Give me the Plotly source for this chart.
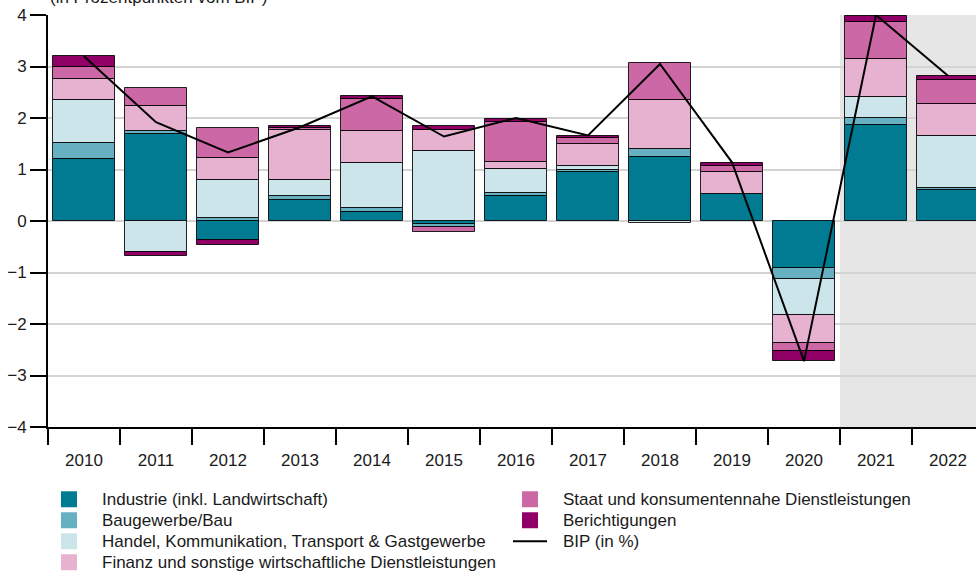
import plotly.graph_objects as go

years = ["2010", "2011", "2012", "2013", "2014", "2015", "2016",
         "2017", "2018", "2019", "2020", "2021", "2022"]

industrie = [1.20, 1.69, -0.37, 0.40, 0.18, -0.05, 0.49, 0.95, 1.24, 0.53, -0.92, 1.87, 0.61]
bau       = [0.32, 0.05, 0.06, 0.09, 0.08, -0.06, 0.05, 0.05, 0.15, None, -0.20, 0.13, 0.03]
handel    = [0.82, -0.61, 0.74, 0.31, 0.86, 1.35, 0.47, 0.06, -0.03, None, -0.70, 0.40, 1.02]
finanz    = [0.42, 0.50, 0.43, 0.96, 0.63, 0.42, 0.14, 0.44, 0.95, 0.42, -0.54, 0.74, 0.61]
staat     = [0.24, 0.35, 0.58, 0.05, 0.62, -0.10, 0.78, 0.11, 0.73, 0.11, -0.16, 0.72, 0.47]
berich    = [0.20, -0.07, -0.09, 0.03, 0.05, 0.07, 0.05, 0.04, None, 0.06, -0.20, 0.13, 0.08]
bip       = [3.20, 1.92, 1.33, 1.82, 2.42, 1.64, 2.00, 1.66, 3.05, 1.14, -2.72, 4.00, 2.82]

names = ["Industrie (inkl. Landwirtschaft)", "Baugewerbe/Bau",
         "Handel, Kommunikation, Transport & Gastgewerbe",
         "Finanz und sonstige wirtschaftliche Dienstleistungen",
         "Staat und konsumentennahe Dienstleistungen", "Berichtigungen"]
bip_name = "BIP (in %)"
colors = ["#007b91", "#66b0c1", "#cce5ea", "#e7b2d0", "#cc68a6", "#910066"]
series = [industrie, bau, handel, finanz, staat, berich]

FONT = "Liberation Sans, Arial, sans-serif"
TXT = "#1a1a1a"

# geometry
W, H = 976, 576
L, T = 48, 14.5
PW = W - L
PH = 412.2
B = H - T - PH
CAT = 72.0  # pixel width of one year slot


def px(xs):
    return (xs - L) / PW


def py(ys):
    return (T + PH - ys) / PH


fig = go.Figure()
for nm, col, vals in zip(names, colors, series):
    fig.add_trace(go.Bar(x=years, y=vals, name=nm, marker_color=col,
                         marker_line=dict(color="rgba(0,0,0,0.85)", width=1),
                         width=0.86, showlegend=False, hoverinfo="skip"))
fig.add_trace(go.Scatter(x=years, y=bip, mode="lines", name=bip_name,
                         line=dict(color="black", width=2), showlegend=False))

fig.add_shape(type="rect", xref="x", yref="y", x0=10.5, x1=13, y0=-4, y1=4,
              fillcolor="#e6e6e6", line=dict(width=0), layer="below")

fig.add_annotation(text="(in Prozentpunkten vom BIP)", xref="paper", yref="paper",
                   x=px(48), y=py(-3), xanchor="left", yanchor="middle", showarrow=False,
                   font=dict(size=17, color=TXT, family=FONT))

# legend (two columns, column-major order as in the reference)
rows = [499, 520, 541, 562]
legend_items = [
    (names[0], colors[0], 0, 0), (names[1], colors[1], 0, 1),
    (names[2], colors[2], 0, 2), (names[3], colors[3], 0, 3),
    (names[4], colors[4], 1, 0), (names[5], colors[5], 1, 1),
    (bip_name, None, 1, 2),
]
col_sw = [(61, 77, 100), (522, 538, 561)]
for text, col, c, r in legend_items:
    x0, x1, xt = col_sw[c]
    yc = rows[r]
    if col is None:
        fig.add_shape(type="line", xref="paper", yref="paper",
                      x0=px(513), x1=px(547), y0=py(yc), y1=py(yc),
                      line=dict(color="black", width=2))
    else:
        fig.add_shape(type="rect", xref="paper", yref="paper",
                      x0=px(x0), x1=px(x1), y0=py(yc - 8), y1=py(yc + 8),
                      fillcolor=col, line=dict(width=0))
    fig.add_annotation(text=text, xref="paper", yref="paper", x=px(xt), y=py(yc),
                       xanchor="left", yanchor="middle", showarrow=False,
                       font=dict(size=17, color=TXT, family=FONT))

fig.update_layout(
    width=W, height=H,
    margin=dict(l=L, r=0, t=T, b=B, autoexpand=False),
    barmode="relative", bargap=0,
    plot_bgcolor="white", paper_bgcolor="white",
    font=dict(family=FONT, size=17, color=TXT),
    showlegend=False,
    xaxis=dict(type="category", range=[-0.5, -0.5 + PW / CAT], showgrid=False,
               showline=True, linecolor="black", linewidth=2,
               ticks="outside", tickson="boundaries", ticklen=16, tickwidth=2,
               tickcolor="black", tickfont=dict(size=17), ticklabelstandoff=17,
               ticklabeloverflow="allow", fixedrange=True),
    yaxis=dict(range=[-4, 4], dtick=1, showgrid=True, gridcolor="#d4d4d4", gridwidth=1.5,
               zeroline=False, showline=True, linecolor="black", linewidth=2,
               ticks="outside", ticklen=16, tickwidth=2, tickcolor="black",
               tickfont=dict(size=17), ticklabeloverflow="allow", fixedrange=True),
)

fig.write_html("out.html", config={"displayModeBar": False},
               post_script="document.body.style.margin='0';")
